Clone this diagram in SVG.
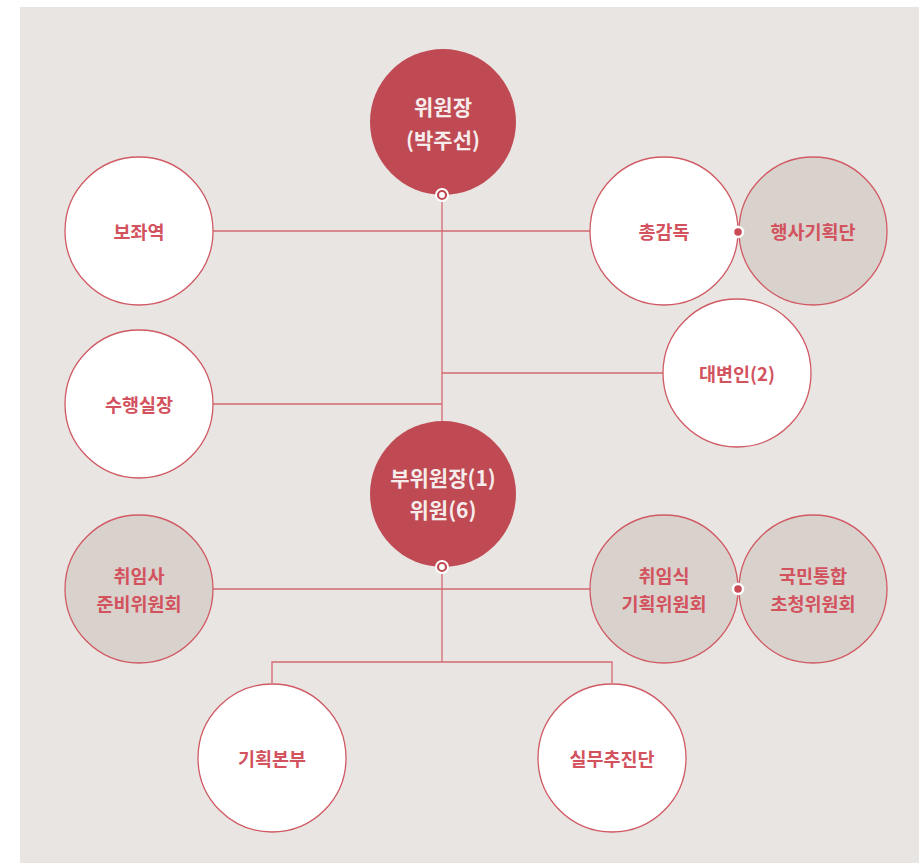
<svg xmlns="http://www.w3.org/2000/svg" width="919" height="863" viewBox="0 0 919 863">
<style>
text{font-family:"Noto Sans CJK KR","Noto Sans",sans-serif;font-weight:bold;text-anchor:middle;dominant-baseline:central}
.w{fill:#fff;stroke:#d05a64;stroke-width:1.3}
.t{fill:#d9d1cb;stroke:#d05a64;stroke-width:1.3}
.r{fill:#bf4a53}
.lt{fill:#d2525e;font-size:18.5px}
.rt{fill:#f6ecec;font-size:21px}
.ln{stroke:#d46a73;stroke-width:1.3;fill:none}
</style>
<rect x="20" y="7" width="899" height="856" fill="#e9e5e2"/>
<g id="connectors">
<path class="ln" d="M442 195V422M213 231H590M442 373H663M213 404H442M213 589H590M442 567V662M272 683V662H612V683"/>
</g>
<g id="chair"><circle class="r" cx="443" cy="122" r="73"/><text class="rt" x="443" y="106">위원장</text><text class="rt" x="443" y="139">(박주선)</text></g>
<g id="advisor"><circle class="w" cx="139" cy="231" r="74"/><text class="lt" x="139" y="231">보좌역</text></g>
<g id="director"><circle class="w" cx="664" cy="231" r="74"/><text class="lt" x="664" y="231">총감독</text></g>
<g id="event"><circle class="t" cx="813" cy="231" r="74"/><text class="lt" x="813" y="231">행사기획단</text></g>
<g id="spokes"><circle class="w" cx="737" cy="373" r="74"/><text class="lt" x="737" y="373">대변인(2)</text></g>
<g id="chief"><circle class="w" cx="139" cy="404" r="74"/><text class="lt" x="139" y="404">수행실장</text></g>
<g id="vice"><circle class="r" cx="443" cy="494" r="73"/><text class="rt" x="443" y="477">부위원장(1)</text><text class="rt" x="443" y="509">위원(6)</text></g>
<g id="speech"><circle class="t" cx="139" cy="589" r="74"/><text class="lt" x="139" y="575">취임사</text><text class="lt" x="139" y="603">준비위원회</text></g>
<g id="ceremony"><circle class="t" cx="664" cy="589" r="74"/><text class="lt" x="664" y="575">취임식</text><text class="lt" x="664" y="603">기획위원회</text></g>
<g id="unity"><circle class="t" cx="813" cy="589" r="74"/><text class="lt" x="813" y="575">국민통합</text><text class="lt" x="813" y="603">초청위원회</text></g>
<g id="planning"><circle class="w" cx="272" cy="758" r="74"/><text class="lt" x="272" y="758">기획본부</text></g>
<g id="task"><circle class="w" cx="612" cy="758" r="74"/><text class="lt" x="612" y="758">실무추진단</text></g>
<g id="dots">
<circle cx="442" cy="195" r="7" fill="#fff"/><circle cx="442" cy="195" r="4" fill="#fff" stroke="#bf4a53" stroke-width="2.2"/>
<circle cx="442" cy="567" r="7" fill="#fff"/><circle cx="442" cy="567" r="4" fill="#fff" stroke="#bf4a53" stroke-width="2.2"/>
<circle cx="738" cy="232" r="5" fill="#c94a55" stroke="#fff" stroke-width="2.5"/>
<circle cx="738" cy="589" r="5" fill="#c94a55" stroke="#fff" stroke-width="2.5"/>
</g>
</svg>
